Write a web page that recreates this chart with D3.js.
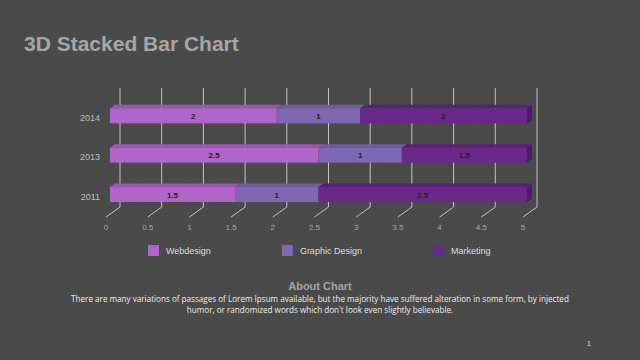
<!DOCTYPE html>
<html>
<head>
<meta charset="utf-8">
<script src="https://cdn.jsdelivr.net/npm/d3@7/dist/d3.min.js"></script>
<style>
html,body{margin:0;padding:0;background:#4a4a4a;}
svg{display:block;}
</style>
</head>
<body>
<svg id="c" width="640" height="360"></svg>
<script>
const categories = ["2014", "2013", "2011"];
const seriesNames = ["Webdesign", "Graphic Design", "Marketing"];
const webdesign = [2, 2.5, 1.5];
const graphicDesign = [1, 1, 1];
const marketing = [2, 1.5, 2.5];
const tickValues = [0, 0.5, 1, 1.5, 2, 2.5, 3, 3.5, 4, 4.5, 5];
const tickLabels = ["0", "0.5", "1", "1.5", "2", "2.5", "3", "3.5", "4", "4.5", "5"];
const titleText = "3D Stacked Bar Chart";
const aboutTitle = "About Chart";
const aboutLines = [
  "There are many variations of passages of Lorem Ipsum available, but the majority have suffered alteration in some form, by injected",
  "humor, or randomized words which don't look even slightly believable."
];

const colors = {
  front: ["#b065c9", "#7e68b1", "#69288a"],
  top: ["#9c56b3", "#6f5b9e", "#5a2277"],
  side: ["#4e1d68"]
};

const svg = d3.select("#c");
// background with subtle texture
const defs = svg.append("defs");
const pat = defs.append("pattern").attr("id", "tex").attr("width", 3).attr("height", 3).attr("patternUnits", "userSpaceOnUse");
pat.append("rect").attr("width", 3).attr("height", 3).attr("fill", "#4a4a4a");
pat.append("rect").attr("width", 1).attr("height", 1).attr("fill", "#464646");
pat.append("rect").attr("x", 1.5).attr("y", 1.5).attr("width", 1).attr("height", 1).attr("fill", "#4f4f4f");
svg.append("rect").attr("width", 640).attr("height", 360).attr("fill", "url(#tex)");

// title
svg.append("text").attr("x", 24).attr("y", 51)
  .attr("font-family", "Liberation Sans, Arial, sans-serif")
  .attr("font-weight", "bold").attr("font-size", 21).attr("fill", "#a6a6a6")
  .text(titleText);

// 3D projection
const DX = -14, DY = 10;      // full depth offset (back -> front floor)
const fFront = 0.72, fBack = 0.36;
const x = d3.scaleLinear().domain([0, 5]).range([120, 537]);
const y = d3.scaleBand().domain(categories).range([89, 207]).paddingInner(0.62).paddingOuter(0.31);
const yTop = 88, yFloor = 207;

// gridlines (back wall + floor)
const grid = svg.append("g").attr("stroke", "#c4c4c4").attr("stroke-width", 1).attr("fill", "none");
tickValues.forEach(v => {
  const xb = x(v);
  grid.append("path").attr("d", `M${xb},${yTop}L${xb},${yFloor}L${xb + DX},${yFloor + DY}`);
});

// tick labels
svg.append("g").selectAll("text").data(tickValues).join("text")
  .attr("x", v => x(v) + DX).attr("y", 230)
  .attr("text-anchor", "middle")
  .attr("font-family", "Liberation Sans, Arial, sans-serif")
  .attr("font-size", 8).attr("fill", "#a8a8a8")
  .text((v, i) => tickLabels[i]);

// category labels
svg.append("g").selectAll("text").data(categories).join("text")
  .attr("x", 100).attr("y", c => y(c) + DY * fFront + y.bandwidth() / 2 + 5)
  .attr("text-anchor", "end")
  .attr("font-family", "Liberation Sans, Arial, sans-serif")
  .attr("font-size", 9).attr("fill", "#bdbdbd")
  .text(c => c);

// stacked data
const rows = categories.map((c, i) => ({ cat: c, v: [webdesign[i], graphicDesign[i], marketing[i]] }));
const bars = svg.append("g");
rows.forEach(r => {
  let acc = 0;
  const yb = y(r.cat), bw = y.bandwidth();
  r.v.forEach((val, s) => {
    const v0 = acc, v1 = acc + val; acc = v1;
    const x0F = x(v0) + DX * fFront, x1F = x(v1) + DX * fFront;
    const x0B = x(v0) + DX * fBack, x1B = x(v1) + DX * fBack;
    const yF = yb + DY * fFront, yB = yb + DY * fBack;
    // top face
    bars.append("path").attr("d", `M${x0F},${yF}L${x0B},${yB}L${x1B},${yB}L${x1F},${yF}Z`).attr("fill", colors.top[s]);
    // front face
    bars.append("rect").attr("x", x0F).attr("y", yF).attr("width", x1F - x0F).attr("height", bw).attr("fill", colors.front[s]);
    if (s === r.v.length - 1) {
      bars.append("path").attr("d", `M${x1F},${yF}L${x1B},${yB}L${x1B},${yB + bw}L${x1F},${yF + bw}Z`).attr("fill", colors.side[0]);
    }
    bars.append("text").attr("x", (x0F + x1F) / 2).attr("y", yF + bw / 2 + 3)
      .attr("text-anchor", "middle")
      .attr("font-family", "Liberation Sans, Arial, sans-serif")
      .attr("font-weight", "bold").attr("font-size", 8).attr("fill", "#222")
      .text(val);
  });
});

// legend
const legend = svg.append("g");
let lx = 148;
seriesNames.forEach((n, i) => {
  legend.append("rect").attr("x", lx).attr("y", 245).attr("width", 11).attr("height", 11).attr("fill", colors.front[i]);
  const t = legend.append("text").attr("x", lx + 18).attr("y", 254)
    .attr("font-family", "Liberation Sans, Arial, sans-serif")
    .attr("font-size", 9).attr("fill", "#dcdcdc").text(n);
  lx += 18 + t.node().getComputedTextLength() + 71;
});

// about
svg.append("text").attr("x", 320).attr("y", 290).attr("text-anchor", "middle")
  .attr("font-family", "Liberation Sans, Arial, sans-serif")
  .attr("font-weight", "bold").attr("font-size", 11).attr("fill", "#a3a3a3")
  .text(aboutTitle);
const l1 = svg.append("text").attr("x", 320).attr("y", 302).attr("text-anchor", "middle")
  .attr("font-family", "Open Sans, sans-serif").attr("font-size", 9).attr("fill", "#ececec")
  .text(aboutLines[0]);
const w = l1.node().getComputedTextLength();
const fs = 9 * 499 / w;
l1.attr("font-size", fs);
svg.append("text").attr("x", 320).attr("y", 312.5).attr("text-anchor", "middle")
  .attr("font-family", "Open Sans, sans-serif").attr("font-size", fs).attr("fill", "#ececec")
  .text(aboutLines[1]);

// page number
svg.append("text").attr("x", 589).attr("y", 346).attr("text-anchor", "middle")
  .attr("font-family", "Liberation Sans, Arial, sans-serif")
  .attr("font-size", 8).attr("fill", "#dcdcdc").text("1");
</script>
</body>
</html>
